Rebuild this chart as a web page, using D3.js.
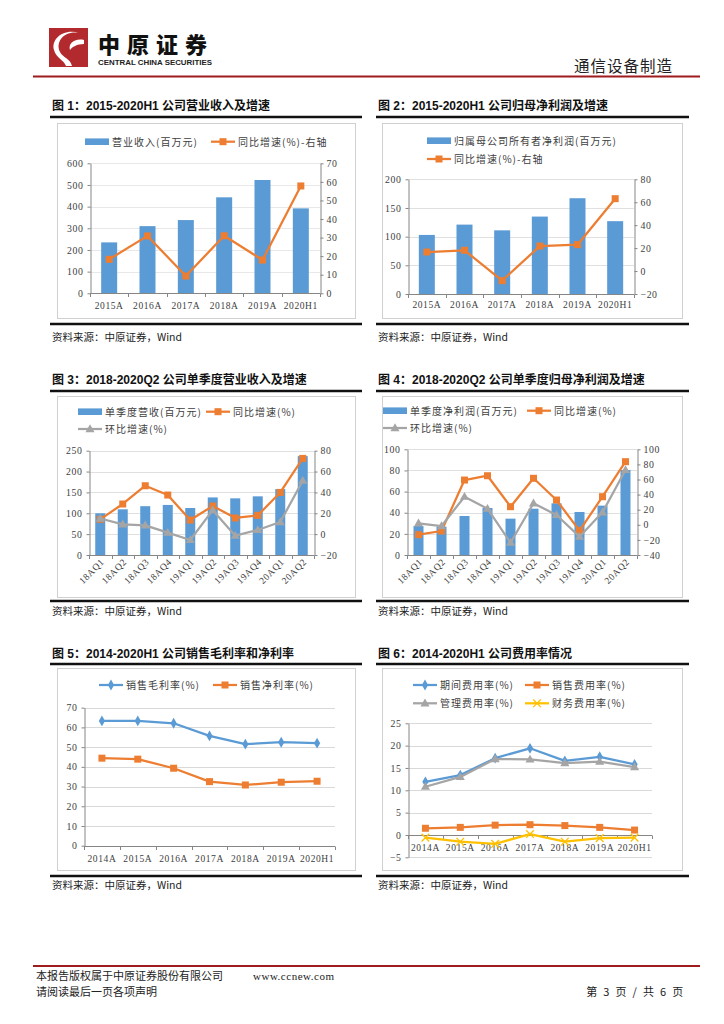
<!DOCTYPE html>
<html><head><meta charset="utf-8">
<script src="https://cdn.jsdelivr.net/npm/d3@7"></script>
<style>
body{margin:0;background:#fff;}
svg{display:block;}
</style></head><body>
<svg id="page" width="724" height="1024"></svg>
<script>
// ---------------- DATA ----------------
const cats1 = ["2015A","2016A","2017A","2018A","2019A","2020H1"];
const revenue = [235,310,338,443,523,392];
const revenueYoY = [18.3,30.9,9.3,31.0,17.9,57.8];
const profit = [103,121,111,135,167,127];
const profitYoY = [16.6,18.1,-8.4,21.8,23.0,63.1];
const quarters = ["18AQ1","18AQ2","18AQ3","18AQ4","19AQ1","19AQ2","19AQ3","19AQ4","20AQ1","20AQ2"];
const qRevenue = [100,109.5,117,120,112.6,138,135.8,140.6,158,237];
const qRevenueYoY = [14.2,28.9,46.4,37.5,13.5,27,15.5,18,40,72.6];
const qRevenueQoQ = [15,9.4,8.4,1.4,-5.6,23,-1.5,4,11.6,51.2];
const qProfit = [27.4,26.8,36.9,44.5,34.4,43.8,48.9,40.7,46.7,80.4];
const qProfitYoY = [-13.1,-8.2,59.3,65,24,61.6,32.8,-7.8,37.2,83.6];
const qProfitQoQ = [2,-1.6,37.2,21.3,-23.7,28.5,13,-15.7,16.5,72.6];
const years2 = ["2014A","2015A","2016A","2017A","2018A","2019A","2020H1"];
const grossMargin = [63.3,63.3,62.1,55.7,51.5,52.5,52.0];
const netMargin = [44.4,43.9,39.3,32.5,30.8,32.2,32.7];
const periodExp = [11.9,13.4,17.2,19.4,16.6,17.5,15.8];
const sellingExp = [1.5,1.7,2.2,2.3,2.1,1.7,1.1];
const adminExp = [10.8,13.0,17.0,16.9,16.1,16.4,15.2];
const financeExp = [-0.6,-1.5,-2.0,0.2,-1.5,-0.7,-0.6];

const ticks1L = [0,100,200,300,400,500,600];
const ticks1R = [0,10,20,30,40,50,60,70];
const ticks2L = [0,50,100,150,200];
const ticks2R = [-20,0,20,40,60,80];
const ticks3L = [0,50,100,150,200,250];
const ticks3R = [-20,0,20,40,60,80];
const ticks4L = [0,20,40,60,80,100];
const ticks4R = [-40,-20,0,20,40,60,80,100];
const ticks5 = [0,10,20,30,40,50,60,70];
const ticks6 = [-5,0,5,10,15,20,25];

const titles = ["图 1：2015-2020H1 公司营业收入及增速","图 2：2015-2020H1 公司归母净利润及增速",
  "图 3：2018-2020Q2 公司单季度营业收入及增速","图 4：2018-2020Q2 公司单季度归母净利润及增速",
  "图 5：2014-2020H1 公司销售毛利率和净利率","图 6：2014-2020H1 公司费用率情况"];
const sourceText = "资料来源：中原证券，Wind";

// ---------------- STYLE ----------------
const C = {blue:"#5B9BD5", orange:"#ED7D31", gray:"#A5A5A5", yellow:"#FFC000",
  axis:"#868686", grid:"#D9D9D9", text:"#404040"};
const CJK = '"Noto Sans CJK SC","Noto Sans",sans-serif';
const SERIF = '"Liberation Serif","DejaVu Serif",serif';

const svg = d3.select("#page");
svg.append("rect").attr("width",724).attr("height",1024).attr("fill","#fff");

// ---------------- HEADER ----------------
const hdr = svg.append("g");
hdr.append("rect").attr("x",49).attr("y",28).attr("width",39).attr("height",39).attr("fill","#B22A2E");
hdr.append("path").attr("d","M80,33 C64,30 55,42 60,52 C63,58 70,58 72,66 L66,66 C64,60 56,58 54,50 C51,40 62,28 80,33 Z").attr("fill","#fff");
hdr.append("path").attr("d","M84,40 C74,38 68,44 70,50 C72,47 77,44 84,44 Z").attr("fill","#fff");
hdr.append("text").attr("x",98).attr("y",53).attr("font-family",CJK).attr("font-weight",900)
  .attr("font-size",22).attr("letter-spacing",7).attr("fill","#111").text("中原证券");
hdr.append("text").attr("x",98).attr("y",64.5).attr("font-family",'"Liberation Sans",sans-serif').attr("font-weight",700)
  .attr("font-size",7).attr("textLength",114).attr("lengthAdjust","spacingAndGlyphs").attr("fill","#222").text("CENTRAL CHINA SECURITIES");
hdr.append("text").attr("x",673).attr("y",72).attr("text-anchor","end").attr("font-family",CJK)
  .attr("font-size",15.5).attr("letter-spacing",1).attr("fill","#222").text("通信设备制造");
hdr.append("line").attr("x1",33).attr("x2",700).attr("y1",76.5).attr("y2",76.5).attr("stroke","#9E1B1E").attr("stroke-width",2);

// ---------------- FOOTER ----------------
const ftr = svg.append("g").attr("font-family",CJK).attr("font-size",11).attr("fill","#222");
ftr.append("line").attr("x1",33).attr("x2",700).attr("y1",966).attr("y2",966).attr("stroke","#9E1B1E").attr("stroke-width",2);
ftr.append("text").attr("x",36).attr("y",980).text("本报告版权属于中原证券股份有限公司");
ftr.append("text").attr("x",253).attr("y",980).attr("font-family",SERIF).attr("letter-spacing",0.5).text("www.ccnew.com");
ftr.append("text").attr("x",36).attr("y",996).text("请阅读最后一页各项声明");
ftr.append("text").attr("x",685).attr("y",996).attr("text-anchor","end").attr("letter-spacing",1.8).text("第 3 页 / 共 6 页");

// ---------------- PANEL FRAMES ----------------
const cols = [{rx0:50,rx1:362,bx0:57,bx1:355,tx:52},{rx0:376,rx1:689,bx0:382,bx1:682,tx:378}];
const rows = [{t:110,r1:117,b0:123,b1:318,r2:324,s:341},
              {t:384,r1:391,b0:396,b1:597,r2:601,s:615},
              {t:658,r1:664,b0:668,b1:870,r2:876,s:889}];
titles.forEach((tt,i)=>{
  const c = cols[i%2], r = rows[Math.floor(i/2)];
  const g = svg.append("g");
  g.append("text").attr("x",c.tx).attr("y",r.t).attr("font-family",'"Liberation Sans","Noto Sans CJK SC",sans-serif')
    .attr("font-weight",700).attr("font-size",12).attr("fill","#111").text(tt);
  g.append("line").attr("x1",c.rx0).attr("x2",c.rx1).attr("y1",r.r1).attr("y2",r.r1).attr("stroke","#111").attr("stroke-width",2.5);
  g.append("rect").attr("x",c.bx0+0.5).attr("y",r.b0+0.5).attr("width",c.bx1-c.bx0).attr("height",r.b1-r.b0)
    .attr("fill","none").attr("stroke","#D0D0D0").attr("stroke-width",1);
  g.append("line").attr("x1",c.rx0).attr("x2",c.rx1).attr("y1",r.r2).attr("y2",r.r2).attr("stroke","#111").attr("stroke-width",2.5);
  g.append("text").attr("x",c.tx).attr("y",r.s).attr("font-family",'"Noto Sans CJK SC","Liberation Sans",sans-serif')
    .attr("font-size",10.5).attr("fill","#222").text(sourceText);
});

// ---------------- HELPERS ----------------
function drawMarker(g, type, cx, cy, color){
  if(type==="square"){
    g.append("rect").attr("x",cx-3.5).attr("y",cy-3.5).attr("width",7).attr("height",7).attr("fill",color);
  } else if(type==="triangle"){
    g.append("path").attr("d",d3.symbol(d3.symbolTriangle,36)()).attr("transform",`translate(${cx},${cy+0.5})`).attr("fill",color);
  } else if(type==="diamond"){
    g.append("path").attr("d",d3.symbol(d3.symbolDiamond,34)()).attr("transform",`translate(${cx},${cy})`).attr("fill",color);
  } else if(type==="x"){
    g.append("path").attr("d",d3.symbol(d3.symbolX,40)()).attr("transform",`translate(${cx},${cy})`)
      .attr("fill","none").attr("stroke",color).attr("stroke-width",1.3);
  }
}
function legendItem(g, it){
  if(it.kind==="bar"){
    g.append("rect").attr("x",it.x).attr("y",it.y-3.3).attr("width",24).attr("height",6.6).attr("fill",it.color);
  } else {
    g.append("line").attr("x1",it.x).attr("x2",it.x+24).attr("y1",it.y).attr("y2",it.y).attr("stroke",it.color).attr("stroke-width",2.25);
    drawMarker(g, it.marker, it.x+12, it.y, it.color);
  }
  g.append("text").attr("x",it.x+27).attr("y",it.y+3.8).attr("font-family",CJK).attr("font-size",10)
    .attr("letter-spacing",1).attr("fill",C.text).text(it.label);
}
function styleAxis(sel){
  sel.select(".domain").attr("stroke",C.axis).attr("stroke-width",1);
  sel.selectAll(".tick line").attr("stroke",C.axis);
  sel.selectAll(".tick text").attr("font-family",SERIF).attr("font-size",9.8).attr("letter-spacing",0.6).attr("fill",C.text);
}

function chart(o){
  const g = svg.append("g");
  const x = d3.scaleBand().domain(o.cats).range(o.xr).padding(0);
  const yL = d3.scaleLinear().domain(o.yLd).range(o.yr);
  const yR = o.yRd ? d3.scaleLinear().domain(o.yRd).range(o.yr) : null;
  const cx = c => x(c) + x.bandwidth()/2;
  // grid
  if(o.grid){
    g.append("g").selectAll("line").data(o.yLt.filter(v=>v!==o.axisAt)).join("line")
      .attr("x1",o.xr[0]).attr("x2",o.xr[1]).attr("y1",d=>Math.round(yL(d))+0.5).attr("y2",d=>Math.round(yL(d))+0.5)
      .attr("stroke",o.grid).attr("stroke-width",1);
  }
  // bars
  if(o.bars){
    g.append("g").selectAll("rect").data(o.bars).join("rect")
      .attr("x",(d,i)=>cx(o.cats[i])-o.bw/2).attr("width",o.bw)
      .attr("y",d=>yL(d)).attr("height",d=>yL(0)-yL(d)).attr("fill",C.blue);
  }
  // left axis
  const la = g.append("g").attr("transform",`translate(${o.xr[0]+0.5},0)`)
    .call(d3.axisLeft(yL).tickValues(o.yLt).tickSize(3).tickSizeOuter(0).tickPadding(4).tickFormat(d3.format("d")));
  styleAxis(la);
  if(yR){
    const ra = g.append("g").attr("transform",`translate(${o.xr[1]+0.5},0)`)
      .call(d3.axisRight(yR).tickValues(o.yRt).tickSize(3).tickSizeOuter(0).tickPadding(3).tickFormat(d3.format("d")));
    styleAxis(ra);
  }
  // category axis
  const ay = Math.round(yL(o.axisAt))+0.5;
  g.append("line").attr("x1",o.xr[0]).attr("x2",o.xr[1]).attr("y1",ay).attr("y2",ay).attr("stroke",C.axis);
  g.append("g").selectAll("line").data(d3.range(o.cats.length+1)).join("line")
    .attr("x1",i=>Math.round(o.xr[0]+i*x.bandwidth())+0.5).attr("x2",i=>Math.round(o.xr[0]+i*x.bandwidth())+0.5)
    .attr("y1",ay).attr("y2",ay+3.5).attr("stroke",C.axis);
  const lab = g.append("g").selectAll("text").data(o.cats).join("text")
    .attr("font-family",SERIF).attr("font-size",9.5).attr("letter-spacing",0.6).attr("fill",C.text).text(d=>d);
  if(o.rotate){
    lab.attr("text-anchor","end").attr("dominant-baseline","middle")
      .attr("transform",d=>`translate(${cx(d)+o.rotDx},${o.labY}) rotate(-45)`);
  } else {
    lab.attr("text-anchor","middle").attr("x",d=>cx(d)).attr("y",o.labY);
  }
  // lines
  (o.lines||[]).forEach(s=>{
    const sc = s.right ? yR : yL;
    g.append("path").datum(s.vals).attr("fill","none").attr("stroke",s.color).attr("stroke-width",2.25)
      .attr("stroke-linejoin","round")
      .attr("d",d3.line().x((d,i)=>cx(o.cats[i])).y(d=>sc(d)));
    const mg = g.append("g");
    s.vals.forEach((v,i)=>drawMarker(mg, s.marker, cx(o.cats[i]), sc(v), s.color));
  });
  // legend
  (o.legend||[]).forEach(it=>legendItem(g,it));
}

// ---------------- CHART 1 ----------------
chart({cats:cats1, xr:[90,320], yr:[293.3,163.3], yLd:[0,600], yLt:ticks1L, yRd:[0,70], yRt:ticks1R,
  axisAt:0, grid:"#E8E8E8", bars:revenue, bw:16, labY:309,
  lines:[{vals:revenueYoY, right:true, color:C.orange, marker:"square"}],
  legend:[{kind:"bar",x:85,y:141.7,color:C.blue,label:"营业收入(百万元)"},
          {kind:"line",x:211,y:141.7,color:C.orange,marker:"square",label:"同比增速(%)-右轴"}]});

// ---------------- CHART 2 ----------------
chart({cats:cats1, xr:[408,634], yr:[294,179.3], yLd:[0,200], yLt:ticks2L, yRd:[-20,80], yRt:ticks2R,
  axisAt:0, grid:"#E0E0E0", bars:profit, bw:16, labY:308,
  lines:[{vals:profitYoY, right:true, color:C.orange, marker:"square"}],
  legend:[{kind:"bar",x:427,y:140.7,color:C.blue,label:"归属母公司所有者净利润(百万元)"},
          {kind:"line",x:427,y:159,color:C.orange,marker:"square",label:"同比增速(%)-右轴"}]});

// ---------------- CHART 3 ----------------
chart({cats:quarters, xr:[89,314], yr:[555,450.7], yLd:[0,250], yLt:ticks3L, yRd:[-20,80], yRt:ticks3R,
  axisAt:0, grid:"#E0E0E0", bars:qRevenue, bw:10, rotate:true, rotDx:3, labY:561,
  lines:[{vals:qRevenueYoY, right:true, color:C.orange, marker:"square"},
         {vals:qRevenueQoQ, right:true, color:C.gray, marker:"triangle"}],
  legend:[{kind:"bar",x:78,y:411.7,color:C.blue,label:"单季度营收(百万元)"},
          {kind:"line",x:206,y:411.7,color:C.orange,marker:"square",label:"同比增速(%)"},
          {kind:"line",x:78,y:429,color:C.gray,marker:"triangle",label:"环比增速(%)"}]});

// ---------------- CHART 4 ----------------
chart({cats:quarters, xr:[407,637], yr:[555,449.3], yLd:[0,100], yLt:ticks4L, yRd:[-40,100], yRt:ticks4R,
  axisAt:0, grid:"#E0E0E0", bars:qProfit, bw:10, rotate:true, rotDx:3, labY:561,
  lines:[{vals:qProfitYoY, right:true, color:C.orange, marker:"square"},
         {vals:qProfitQoQ, right:true, color:C.gray, marker:"triangle"}],
  legend:[{kind:"bar",x:383,y:410.7,color:C.blue,label:"单季度净利润(百万元)"},
          {kind:"line",x:527,y:410.7,color:C.orange,marker:"square",label:"同比增速(%)"},
          {kind:"line",x:383,y:428,color:C.gray,marker:"triangle",label:"环比增速(%)"}]});

// ---------------- CHART 5 ----------------
chart({cats:years2, xr:[84,335], yr:[845.7,707.7], yLd:[0,70], yLt:ticks5,
  axisAt:0, grid:C.grid, labY:862,
  lines:[{vals:grossMargin, color:C.blue, marker:"diamond"},
         {vals:netMargin, color:C.orange, marker:"square"}],
  legend:[{kind:"line",x:99,y:685,color:C.blue,marker:"diamond",label:"销售毛利率(%)"},
          {kind:"line",x:213,y:685,color:C.orange,marker:"square",label:"销售净利率(%)"}]});

// ---------------- CHART 6 ----------------
chart({cats:years2, xr:[408,652], yr:[857.3,723.3], yLd:[-5,25], yLt:ticks6,
  axisAt:0, grid:C.grid, labY:851,
  lines:[{vals:periodExp, color:C.blue, marker:"diamond"},
         {vals:sellingExp, color:C.orange, marker:"square"},
         {vals:adminExp, color:C.gray, marker:"triangle"},
         {vals:financeExp, color:C.yellow, marker:"x"}],
  legend:[{kind:"line",x:413,y:685,color:C.blue,marker:"diamond",label:"期间费用率(%)"},
          {kind:"line",x:525,y:685,color:C.orange,marker:"square",label:"销售费用率(%)"},
          {kind:"line",x:413,y:703.3,color:C.gray,marker:"triangle",label:"管理费用率(%)"},
          {kind:"line",x:525,y:703.3,color:C.yellow,marker:"x",label:"财务费用率(%)"}]});
</script>
</body></html>
